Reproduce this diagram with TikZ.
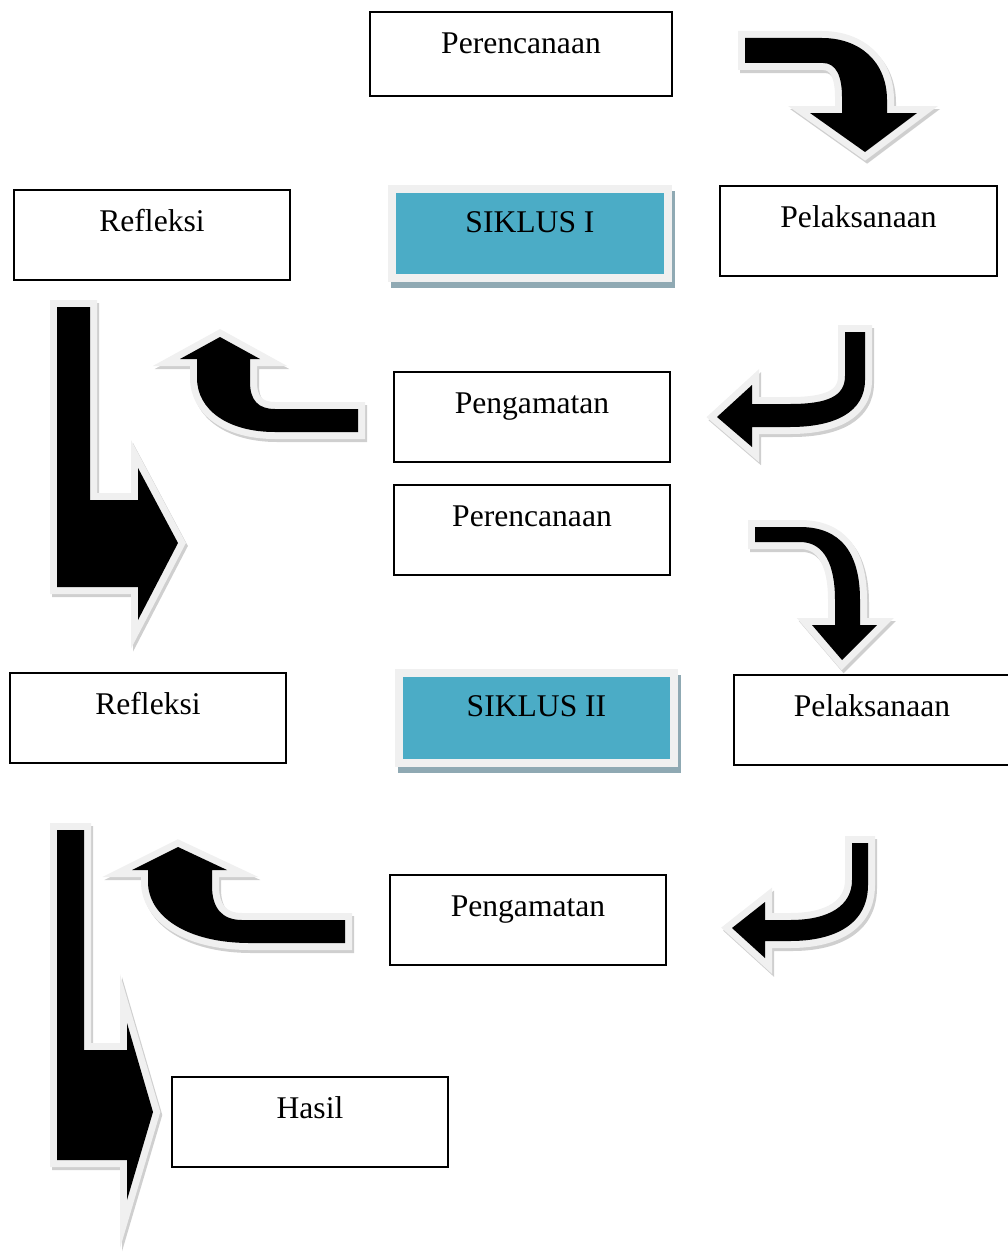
\documentclass[tikz,border=0pt]{standalone}
\usepackage{fontspec}
\setmainfont{Liberation Serif}
\definecolor{rim}{HTML}{F0F0F0}
\definecolor{shad}{HTML}{CFCFCF}
\definecolor{sikblue}{HTML}{4BACC6}
\definecolor{sikshad}{HTML}{8FA9B3}
\begin{document}
\begin{tikzpicture}[x=1pt,y=-1pt,
 box/.style={draw=black, line width=1.6pt, inner sep=0pt, minimum width=276pt, minimum height=90pt,
   text height=22pt, text depth=30pt, font=\fontsize{31.6}{36}\selectfont},
 siklus/.style={box, fill=sikblue, draw=rim, line width=8pt,
   preaction={fill=sikshad, draw=sikshad, line width=8pt, transform canvas={shift={(3pt,-6pt)}}}},
 bigarrow/.style={fill=black, line join=miter,
   preaction={fill=shad, draw=shad, line width=14pt, line join=miter, transform canvas={shift={(2pt,-3pt)}}},
   preaction={fill=rim, draw=rim, line width=14pt, line join=miter}}
]
\useasboundingbox (0,0) rectangle (1007,1255);

% boxes
\node[box, minimum width=302pt, minimum height=84pt, text depth=24pt] (per1) at (521,54) {Perencanaan};
\node[box] (ref1) at (152,235) {Refleksi};
\node[box, minimum width=277pt] (pel1) at (858.5,231) {Pelaksanaan};
\node[siklus, minimum height=89pt, text depth=25pt] (sik1) at (530,233.5) {SIKLUS I};
\node[box] (pen1) at (532,417) {Pengamatan};
\node[box] (per2) at (532,530) {Perencanaan};
\node[box] (ref2) at (148,718) {Refleksi};
\node[siklus, minimum width=275pt, text depth=26pt] (sik2) at (536.5,718) {SIKLUS II};
\node[box] (pel2) at (872,720) {Pelaksanaan};
\node[box] (pen2) at (528,920) {Pengamatan};
\node[box] (hasil) at (310,1122) {Hasil};

% A: Perencanaan -> Pelaksanaan (cycle I)
\path[bigarrow] (745,38) -- (822,38) .. controls (860,38) and (887,62) .. (887,100) -- (887,113)
  -- (917,113) -- (865,152) -- (810,113) -- (842,113) -- (842,97)
  .. controls (842,76) and (836,63) .. (823,63) -- (745,63) -- cycle;
% B: Pelaksanaan -> Pengamatan
\path[bigarrow] (845,332) -- (865,332) -- (865,380) .. controls (865,412) and (835,427) .. (790,427)
  -- (752,427) -- (752,447) -- (717,417) -- (752,385) -- (752,404) -- (790,404)
  .. controls (828,404) and (845,396) .. (845,376) -- cycle;
% C: Pengamatan -> Refleksi
\path[bigarrow] (358,409) -- (358,432) -- (275,432) .. controls (228,432) and (197,410) .. (197,378)
  -- (197,359) -- (180,359) -- (220,337) -- (260,359) -- (250,359) -- (250,382)
  .. controls (250,400) and (258,409) .. (275,409) -- cycle;
% D: Refleksi -> cycle II
\path[bigarrow] (57,307) -- (90,307) -- (90,500) -- (138,500) -- (138,468) -- (178,543)
  -- (138,620) -- (138,587) -- (57,587) -- cycle;
% E: Perencanaan -> Pelaksanaan (cycle II)
\path[bigarrow] (755,527) -- (800,527) .. controls (840,527) and (860,552) .. (860,600) -- (860,625)
  -- (877,625) -- (842,660) -- (812,625) -- (835,625) -- (835,600)
  .. controls (835,566) and (825,542) .. (800,542) -- (755,542) -- cycle;
% F: Pelaksanaan -> Pengamatan (cycle II)
\path[bigarrow] (852,843) -- (868,843) -- (868,885) .. controls (868,924) and (835,941) .. (790,941)
  -- (765,941) -- (765,958) -- (732,928) -- (765,902) -- (765,920) -- (790,920)
  .. controls (830,920) and (852,905) .. (852,880) -- cycle;
% G: Pengamatan -> Refleksi (cycle II)
\path[bigarrow] (345,920) -- (345,943) -- (250,943) .. controls (185,943) and (148,915) .. (148,882)
  -- (148,870) -- (132,870) -- (178,847) -- (227,870) -- (212,870) -- (212,886)
  .. controls (212,908) and (222,920) .. (242,920) -- cycle;
% H: Refleksi -> Hasil
\path[bigarrow] (57,830) -- (84,830) -- (84,1050) -- (127,1050) -- (127,1023) -- (153,1112)
  -- (127,1200) -- (127,1160) -- (57,1160) -- cycle;
\end{tikzpicture}
\end{document}
